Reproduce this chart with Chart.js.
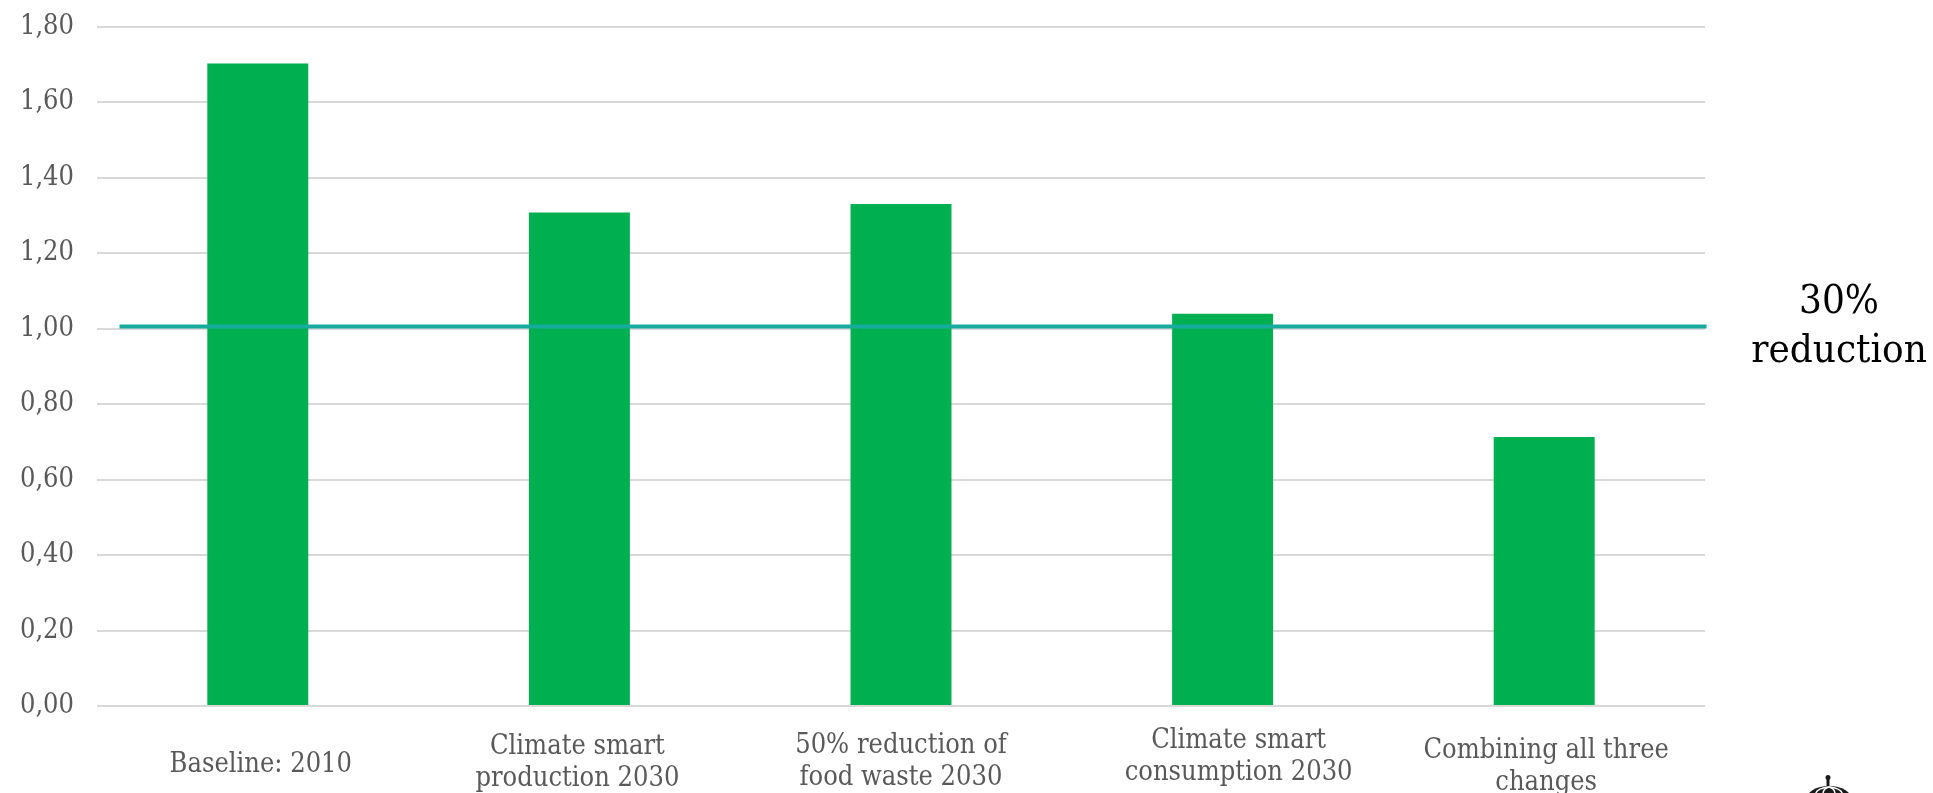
<!DOCTYPE html>
<html>
<head>
<meta charset="utf-8">
<style>html,body{margin:0;padding:0;background:#fff;overflow:hidden}canvas{display:block}</style>
<script src="https://cdn.jsdelivr.net/npm/chart.js@4/dist/chart.umd.js"></script>
</head>
<body>
<canvas id="c" width="1933" height="793"></canvas>
<script>
const categories = ["Baseline: 2010", "Climate smart production 2030", "50% reduction of food waste 2030", "Climate smart consumption 2030", "Combining all three changes"];
const categoryLines = [["Baseline: 2010"], ["Climate smart", "production 2030"], ["50% reduction of", "food waste 2030"], ["Climate smart", "consumption 2030"], ["Combining all three", "changes"]];
const categoryLabelTops = [751, 733, 732, 727, 737];
const categoryLabelShifts = [3, -2, 0, 16, 2];
const emissions = [1.703, 1.308, 1.331, 1.04, 0.713];
const targetLevel = 1.006;
const targetSpan = [-0.43, 4.505];
const targetLabel = ["30%", "reduction"];
const SERIF = '"DejaVu Serif Condensed", "DejaVu Serif", serif';

// Category captions sit at slightly different positions, so they are placed per label.
const captions = {
  id: 'captions',
  afterDraw(chart) {
    const { ctx, scales: { x, y } } = chart;
    ctx.save();
    ctx.textAlign = 'center';
    ctx.textBaseline = 'top';
    ctx.fillStyle = '#595959';
    ctx.font = '27px ' + SERIF;
    categoryLines.forEach((lines, i) => {
      lines.forEach((line, k) => ctx.fillText(line, x.getPixelForTick(i) + categoryLabelShifts[i], categoryLabelTops[i] + k * 32));
    });
    ctx.fillStyle = '#000';
    ctx.font = '40px ' + SERIF;
    const lineY = y.getPixelForValue(targetLevel);
    ctx.fillText(targetLabel[0], 1839, lineY - 44);
    ctx.fillText(targetLabel[1], 1839, lineY + 5);

    // Crest emblem in the lower corner, cut off by the page edge
    ctx.fillStyle = '#1a1a1a';
    ctx.beginPath();
    ctx.arc(1828, 777.5, 2.5, 0, Math.PI * 2);
    ctx.rect(1826.5, 779, 3, 9);
    ctx.fill();
    ctx.beginPath();
    ctx.ellipse(1829, 800, 23, 14, 0, Math.PI, 0);
    ctx.fill();
    ctx.strokeStyle = '#fff';
    ctx.lineWidth = 1.5;
    [[1818, 793], [1824, 793], [1834, 793], [1840, 793]].forEach(([px, py]) => {
      ctx.beginPath();
      ctx.moveTo(1829, 787);
      ctx.quadraticCurveTo(px, 788, px - (1829 - px) * 0.2, py);
      ctx.stroke();
    });
    ctx.restore();
  }
};

new Chart(document.getElementById('c'), {
  data: {
    labels: categories,
    datasets: [
      {
        type: 'line', order: 0, parsing: false, normalized: true,
        data: targetSpan.map(v => ({ x: v, y: targetLevel })),
        borderColor: '#17ab9e', borderWidth: 4, pointRadius: 0, clip: false
      },
      {
        type: 'bar', order: 1, data: emissions,
        backgroundColor: '#00b050', barPercentage: 0.314, categoryPercentage: 1
      }
    ]
  },
  options: {
    responsive: false,
    animation: false,
    layout: { padding: { top: 27, right: 228, left: 0, bottom: 0 } },
    plugins: { legend: { display: false }, tooltip: { enabled: false } },
    scales: {
      x: {
        offset: true,
        ticks: { display: false },
        grid: { display: false },
        border: { display: false },
        afterFit(s) { s.height = 87; }
      },
      y: {
        min: 0, max: 1.8,
        afterFit(s) { s.width = 97; s.paddingTop = 0; s.paddingBottom = 0; },
        ticks: {
          stepSize: 0.2, padding: 23, color: '#595959',
          font: { family: SERIF, size: 27 },
          callback: v => v.toFixed(2).replace('.', ',')
        },
        grid: { color: '#d9d9d9', lineWidth: 2, drawTicks: false },
        border: { display: false }
      }
    }
  },
  plugins: [captions]
});
</script>
</body>
</html>
